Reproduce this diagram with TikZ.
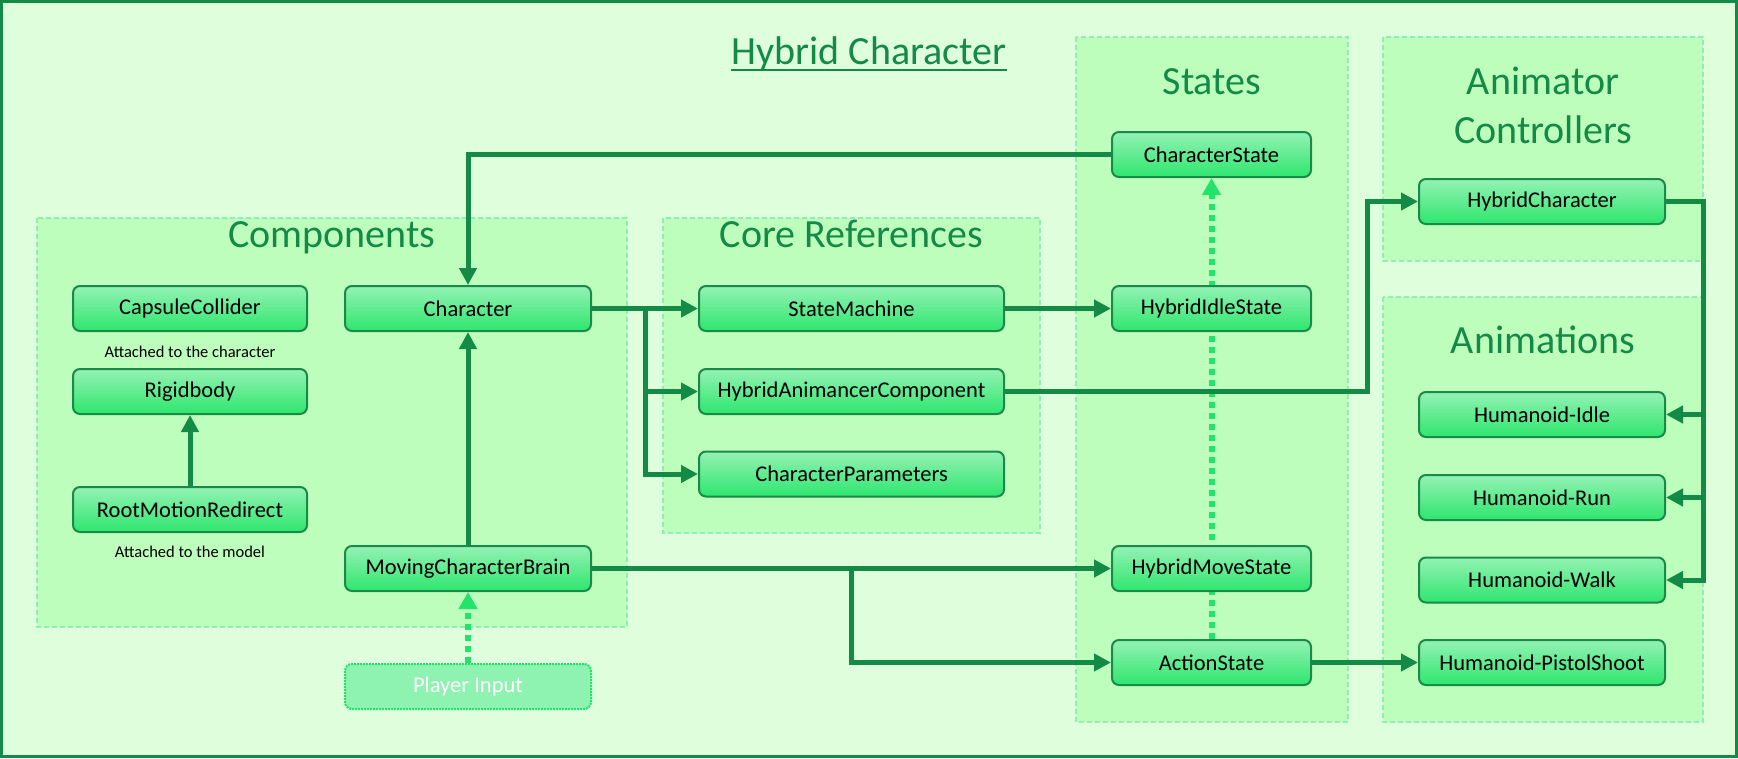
\documentclass[tikz,border=0pt]{standalone}
\usepackage{fontspec}
\setmainfont{Carlito}
\usepackage{tikz}
\usetikzlibrary{calc}
\usetikzlibrary{positioning}
\usetikzlibrary{arrows.meta}

\definecolor{bggreen}{HTML}{DEFEDC}
\definecolor{grpfill}{HTML}{BEFEBC}
\definecolor{grpline}{HTML}{8EEEB4}
\definecolor{darkgreen}{HTML}{138A45}
\definecolor{nodeline}{HTML}{1A8A48}
\definecolor{nodetop}{HTML}{94F2B4}
\definecolor{nodebot}{HTML}{2EE66E}
\definecolor{hintgreen}{HTML}{22E46A}
\definecolor{playerfill}{HTML}{8EF2B0}

\newcommand{\boxfont}{\fontsize{22.5}{27}\selectfont}
\newcommand{\titlefont}{\fontsize{40}{49}\selectfont}

\pgfdeclarelayer{background}
\pgfdeclarelayer{behind}
\pgfsetlayers{background,behind,main}

\tikzset{
	box/.style={draw=nodeline, line width=2pt, rounded corners=7pt, top color=nodetop, bottom color=nodebot,
		minimum width=#1, minimum height=45pt, inner sep=0pt, font=\boxfont},
	player/.style={draw=hintgreen, line width=2pt, densely dotted, rounded corners=7pt, fill=playerfill,
		minimum width=#1, minimum height=45pt, inner sep=0pt, font=\boxfont, text=white},
	group/.style={fill=grpfill, draw=grpline, line width=1.3pt, dash pattern=on 5pt off 3pt},
	grouptitle/.style={text=darkgreen, font=\titlefont, anchor=base, inner sep=0pt, align=center},
	caption/.style={font=\fontsize{16.5}{20}\selectfont, anchor=base, inner sep=0pt},
	link/.style={draw=darkgreen, line width=5pt, -{Triangle[length=17pt,width=17pt]}},
	hint/.style={draw=hintgreen, line width=6pt, dash pattern=on 6pt off 5pt, -{Triangle[length=17pt,width=18pt]}}
}

\begin{document}
\begin{tikzpicture}[x=1pt, y=-1pt]
				\useasboundingbox (0,0) rectangle (1738,758);
				
				\begin{pgfonlayer}{background}
					\fill[bggreen] (0,0) rectangle (1738,758);
					\draw[darkgreen, line width=3pt] (1.5,1.5) rectangle (1736.5,756.5);
					\draw[group] (37,218) rectangle (627,627);
					\draw[group] (663,218) rectangle (1040,533);
					\draw[group] (1076,37) rectangle (1348,722);
					\draw[group] (1383,37) rectangle (1703,261);
					\draw[group] (1383,297) rectangle (1703,722);
				\end{pgfonlayer}
				
				\node[grouptitle] (htitle) at (869,64) {Hybrid Character};
				\draw[darkgreen, line width=2.5pt] ([yshift=-6pt]htitle.base west) -- ([yshift=-6pt]htitle.base east);
				\node[grouptitle] (tcomp) at (332,247) {Components};
				\node[grouptitle] (tcore) at (851.5,247) {Core References};
				\node[grouptitle] (tstates) at (1212,94) {States};
				\node[grouptitle] (tctrl) at (1543,143) {Animator\\Controllers};
				\node[grouptitle] (tanims) at (1543,353) {Animations};
				
				% components
				\node[box=234pt] (capsule) at (190,308.5) {CapsuleCollider};
				\node[box=234pt] (rigid) at (190,391.5) {Rigidbody};
				\node[box=234pt] (rootmr) at (190,509.5) {RootMotionRedirect};
				\node[caption] (capnote) at (190,357) {Attached to the character};
				\node[caption] (modelnote) at (190,557) {Attached to the model};
				\node[box=246pt] (char) at (468,308.5) {Character};
				\node[box=246pt] (brain) at (468,568.5) {MovingCharacterBrain};
				\node[player=246pt] (player) at (468,686.5) {Player Input};
				
				% core references
				\node[box=305pt] (smach) at (851.5,308.5) {StateMachine};
				\node[box=305pt] (hac) at (851.5,391.5) {HybridAnimancerComponent};
				\node[box=305pt] (cparams) at (851.5,474) {CharacterParameters};
				
				% states
				\node[box=199pt] (cstate) at (1211.5,154.5) {CharacterState};
				\node[box=199pt] (idle) at (1211.5,308.5) {HybridIdleState};
				\node[box=199pt] (move) at (1211.5,568.5) {HybridMoveState};
				\node[box=199pt] (action) at (1211.5,662.5) {ActionState};
				
				% controller and animations
				\node[box=246pt] (hchar) at (1542,201.5) {HybridCharacter};
				\node[box=246pt] (animIdle) at (1542,414.5) {Humanoid-Idle};
				\node[box=246pt] (animRun) at (1542,497.5) {Humanoid-Run};
				\node[box=246pt] (animWalk) at (1542,580) {Humanoid-Walk};
				\node[box=246pt] (animShoot) at (1542,662.5) {Humanoid-PistolShoot};
				
				\coordinate (refbus) at (645,308.5);
				\coordinate (ctrlbend) at (1367,300);
				\coordinate (animbus) at (1703,201.5);
				\coordinate (statebus) at (851,568.5);
				
				\draw[link] (cstate.west) -| (char.north);
				\draw[link] (char.east) -- (smach.west);
				\draw[link] (refbus) |- (hac.west);
				\draw[link] (refbus) |- (cparams.west);
				\draw[link] (smach.east) -- (idle.west);
				\draw[link] (hac.east) -| (ctrlbend) |- (hchar.west);
				\draw[link] (hchar.east) -- (animbus) |- (animWalk.east);
				\draw[link] (animbus |- animIdle.east) -- (animIdle.east);
				\draw[link] (animbus |- animRun.east) -- (animRun.east);
				\draw[link] (brain.north) -- (char.south);
				\draw[link] (rootmr.north) -- (rigid.south);
				\draw[link] (brain.east) -- (move.west);
				\draw[link] (statebus) |- (action.west);
				\draw[link] (action.east) -- (animShoot.west);
				\draw[hint] (player.north) -- (brain.south);
				
				\begin{pgfonlayer}{behind}
					\draw[hint] (action.north) -- (cstate.south);
				\end{pgfonlayer}
			\end{tikzpicture}
\end{document}
